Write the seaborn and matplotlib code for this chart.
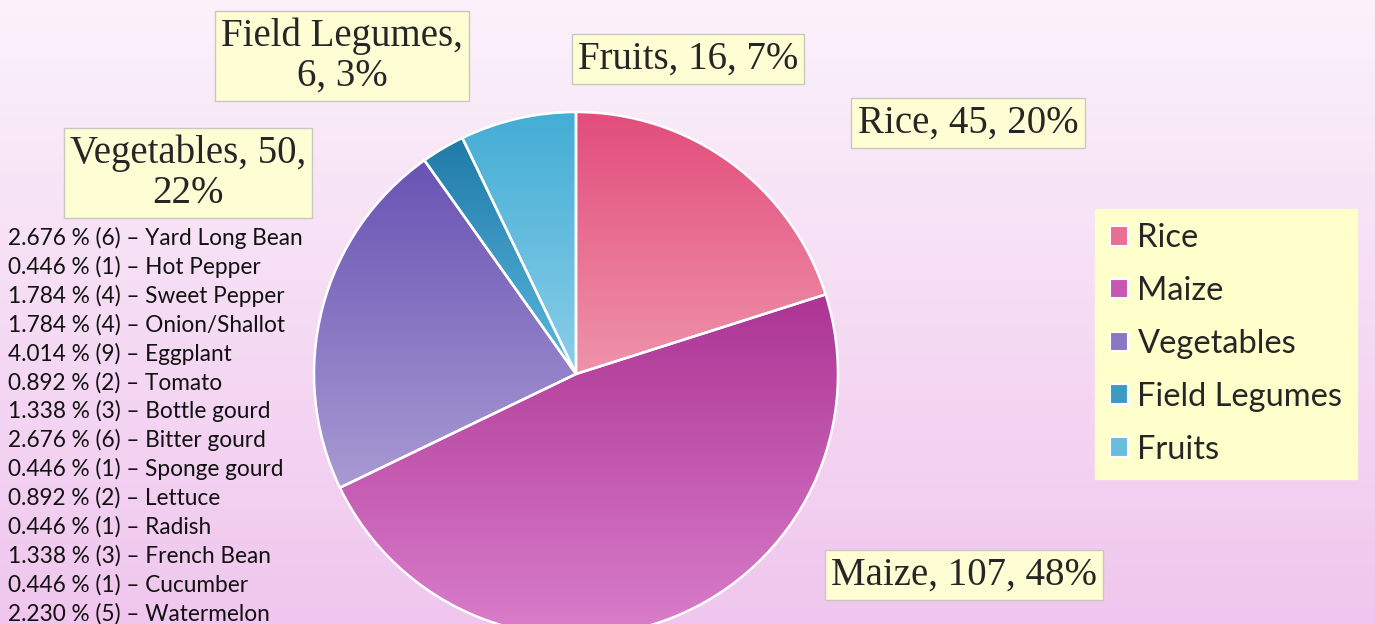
import numpy as np
import matplotlib.pyplot as plt
from matplotlib.colors import LinearSegmentedColormap, to_rgb
from matplotlib.patches import Patch
import seaborn as sns

crops = ["Rice", "Maize", "Vegetables", "Field Legumes", "Fruits"]
counts = [45, 107, 50, 6, 16]
pcts = [20, 48, 22, 3, 7]
top_colors = ["#E24D7B", "#AC3494", "#6953B4", "#1F7AA7", "#43ADD5"]
bottom_colors = ["#EF93AC", "#DA7ECB", "#A99AD3", "#5BB9DF", "#8ACEE8"]

veg_pcts = ["2.676", "0.446", "1.784", "1.784", "4.014", "0.892", "1.338",
            "2.676", "0.446", "0.892", "0.446", "1.338", "0.446", "2.230"]
veg_counts = [6, 1, 4, 4, 9, 2, 3, 6, 1, 2, 1, 3, 1, 5]
veg_names = ["Yard Long Bean", "Hot Pepper", "Sweet Pepper", "Onion/Shallot",
             "Eggplant", "Tomato", "Bottle gourd", "Bitter gourd", "Sponge gourd",
             "Lettuce", "Radish", "French Bean", "Cucumber", "Watermelon"]

# label box positions (pixels from top-left), purely layout
label_pos = {"Rice": (968, 123), "Maize": (964, 575), "Vegetables": (188, 173),
             "Field Legumes": (342, 56), "Fruits": (688, 59)}
label_text = {"Rice": "{n}, {c}, {p}%", "Maize": "{n}, {c}, {p}%",
              "Vegetables": "{n}, {c},\n{p}%", "Field Legumes": "{n},\n{c}, {p}%",
              "Fruits": "{n}, {c}, {p}%"}

sns.set_theme(style="white")
plt.rcParams["font.family"] = ["Lato", "DejaVu Sans"]

W, H = 1375, 624
fig = plt.figure(figsize=(W / 100, H / 100), dpi=100)
ax = fig.add_axes([0, 0, 1, 1])

# background gradient
bg = LinearSegmentedColormap.from_list("bg", ["#FBF2FB", "#F0C6EE"])
ax.imshow(np.linspace(0, 1, 256)[:, None], cmap=bg, extent=(0, W, 0, H),
          aspect="auto", origin="upper", zorder=0)

wedges, _ = ax.pie(counts, startangle=90, counterclock=False,
                   center=(576, H - 374), radius=262,
                   wedgeprops=dict(edgecolor="white", linewidth=1.8))

# vertical gradient inside each slice
for w, c0, c1 in zip(wedges, top_colors, bottom_colors):
    bb = w.get_path().get_extents()
    cmap = LinearSegmentedColormap.from_list("g", [c0, c1])
    im = ax.imshow(np.linspace(0, 1, 256)[:, None], cmap=cmap,
                   extent=(bb.x0, bb.x1, bb.y0, bb.y1), aspect="auto",
                   origin="upper", zorder=1)
    im.set_clip_path(w)
    w.set_facecolor("none")
    w.set_zorder(2)

for name, c, p in zip(crops, counts, pcts):
    x, y = label_pos[name]
    ax.text(x, H - y, label_text[name].format(n=name, c=c, p=p),
            ha="center", va="center", fontsize=28, family="Liberation Serif",
            linespacing=1.1, zorder=4,
            bbox=dict(boxstyle="square,pad=0.16", fc="#FFFDD3", ec="#C8C8C0", lw=1))

for i, (p, c, n) in enumerate(zip(veg_pcts, veg_counts, veg_names)):
    ax.text(8, H - (238 + i * 28.9), f"{p} % ({c}) \u2013 {n}",
            ha="left", va="center", fontsize=16.3, color="#111111", zorder=4)

mid_colors = [tuple((np.array(to_rgb(a)) + np.array(to_rgb(b))) / 2)
              for a, b in zip(top_colors, bottom_colors)]
handles = [Patch(facecolor=m, edgecolor="white", linewidth=1.5) for m in mid_colors]
leg = ax.legend(handles, crops, loc="center left",
                bbox_to_anchor=(1095 / W, 1 - 344 / H), fontsize=23.5,
                frameon=True, fancybox=False, facecolor="#FFFFCC",
                edgecolor="#FFFFCC", framealpha=1, handlelength=0.55,
                handleheight=0.55, handletextpad=0.3, labelspacing=0.7,
                borderpad=0.45, borderaxespad=0)
leg.set_zorder(5)

ax.set_xlim(0, W)
ax.set_ylim(0, H)
ax.set_aspect("auto")
ax.axis("off")

fig.savefig("out.png", dpi=100)
